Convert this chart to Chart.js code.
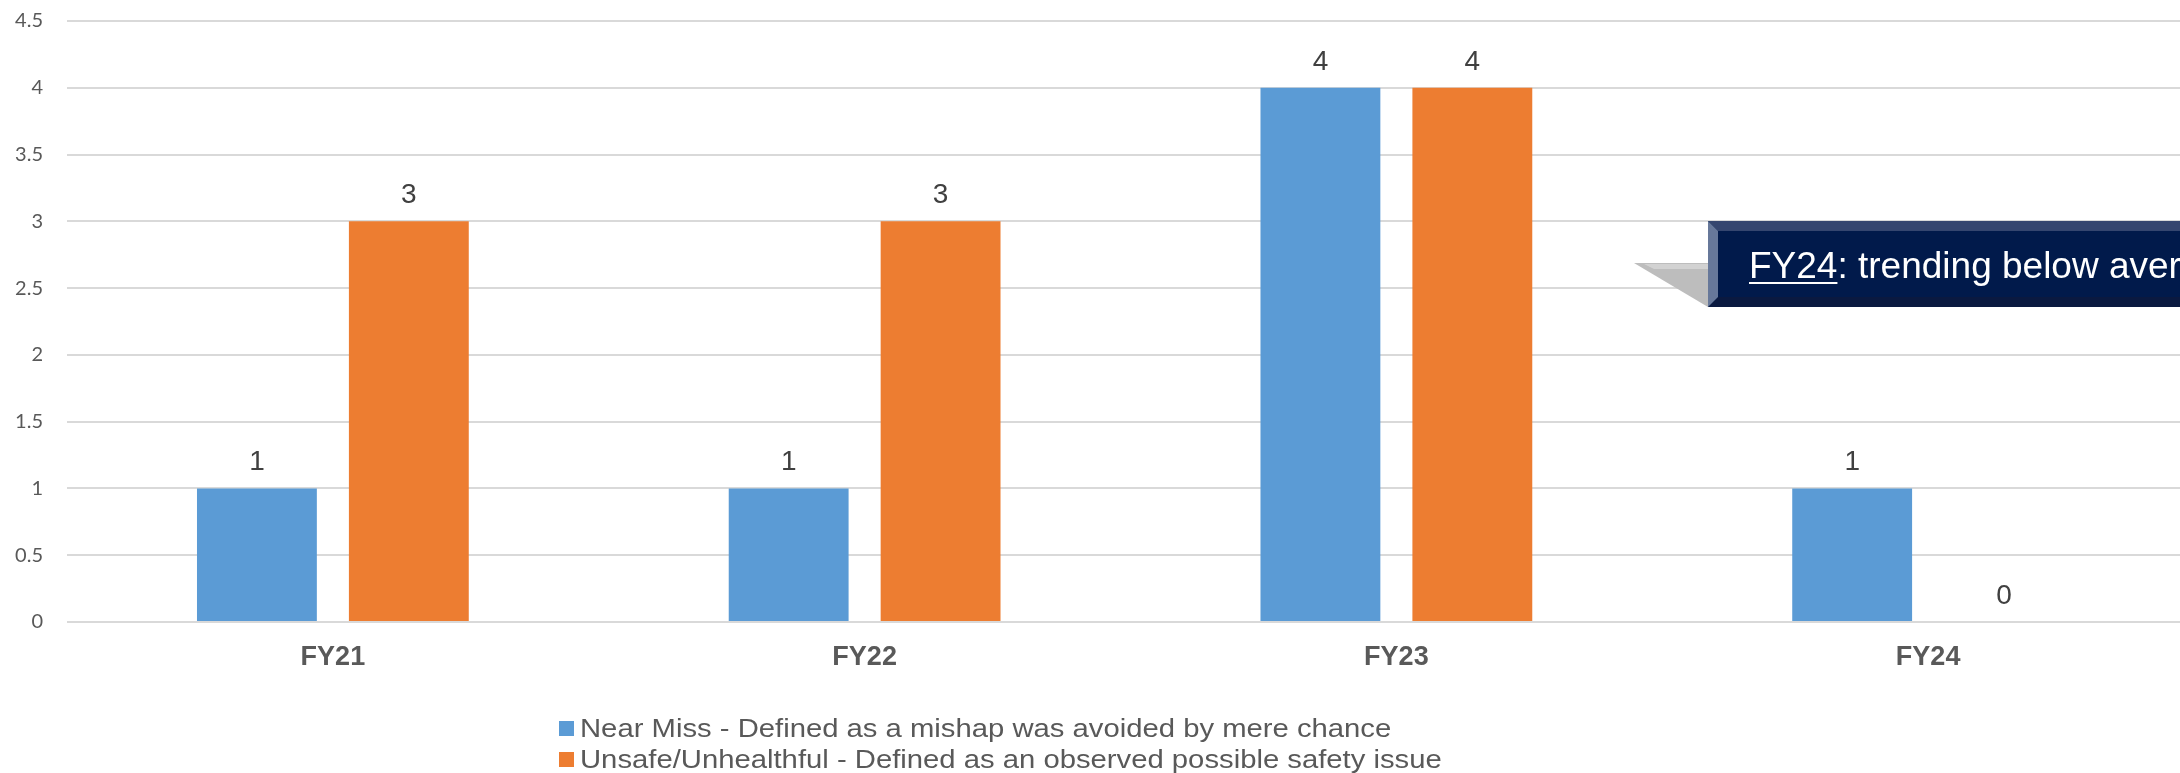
<!DOCTYPE html>
<html>
<head>
<meta charset="utf-8">
<script src="https://cdn.jsdelivr.net/npm/chart.js@4.4.1/dist/chart.umd.min.js"></script>
<style>
html,body{margin:0;padding:0;background:#fff;overflow:hidden;width:2180px;height:773px}
#insert{width:2194px;height:773px}
</style>
</head>
<body>
<div id="insert"><canvas id="myChart" width="2194" height="773"></canvas></div>
<script>
// данные графика
let labels = ['FY21', 'FY22', 'FY23', 'FY24']
let nearMiss = [1, 1, 4, 1]
let unsafe = [3, 3, 4, 0]
let seriesNames = [
    'Near Miss - Defined as a mishap was avoided by mere chance',
    'Unsafe/Unhealthful - Defined as an observed possible safety issue'
]
let calloutYear = 'FY24'
let calloutText = ': trending below average'

const font = '"Liberation Sans", Arial, sans-serif'

// подписи значений над столбиками
const valueLabels = {
    id: 'valueLabels',
    afterDatasetsDraw(chart) {
        const ctx = chart.ctx
        ctx.save()
        ctx.font = '28px ' + font
        ctx.fillStyle = '#404040'
        ctx.textAlign = 'center'
        ctx.textBaseline = 'alphabetic'
        chart.data.datasets.forEach((ds, i) => {
            chart.getDatasetMeta(i).data.forEach((bar, j) => {
                ctx.fillText(String(ds.data[j]), bar.x, bar.y - 18)
            })
        })
        ctx.restore()
    }
}

// легенда в две строки (текст немного растянут по ширине, как в оригинале)
const legendRows = {
    id: 'legendRows',
    afterDraw(chart) {
        const ctx = chart.ctx
        const top = chart.chartArea.bottom + 99
        ctx.save()
        ctx.font = '25px ' + font
        ctx.textBaseline = 'alphabetic'
        ctx.textAlign = 'left'
        chart.data.datasets.forEach((ds, i) => {
            let y = top + i * 31
            ctx.fillStyle = ds.backgroundColor
            ctx.fillRect(559, y, 15, 15)
            ctx.fillStyle = '#595959'
            ctx.save()
            ctx.translate(580, y + 16)
            ctx.scale(1.17, 1)
            ctx.fillText(ds.label, 0, 0)
            ctx.restore()
        })
        ctx.restore()
    }
}

// выноска FY24
const callout = {
    id: 'callout',
    afterDraw(chart) {
        const ctx = chart.ctx
        const yS = chart.scales.y
        const xS = chart.scales.x
        const top = Math.round(yS.getPixelForValue(3))
        const bottom = Math.round(yS.getPixelForValue(2.36))
        const left = Math.round(xS.getPixelForValue(3) - 220)
        const right = left + 700
        const b = 10
        const mid = top + 42
        ctx.save()
        // хвостик
        ctx.fillStyle = '#bdbdbd'
        ctx.beginPath()
        ctx.moveTo(left - 74, mid)
        ctx.lineTo(left, mid)
        ctx.lineTo(left, bottom)
        ctx.closePath()
        ctx.fill()
        ctx.fillStyle = '#d2d2d2'
        ctx.beginPath()
        ctx.moveTo(left - 64, mid + 1)
        ctx.lineTo(left, mid + 1)
        ctx.lineTo(left, mid + 6)
        ctx.lineTo(left - 54, mid + 6)
        ctx.closePath()
        ctx.fill()
        // коробка
        ctx.fillStyle = '#011a4b'
        ctx.fillRect(left, top, right - left, bottom - top)
        ctx.fillStyle = '#35466f'
        ctx.beginPath()
        ctx.moveTo(left, top); ctx.lineTo(right, top); ctx.lineTo(right, top + b); ctx.lineTo(left + b, top + b)
        ctx.closePath(); ctx.fill()
        ctx.fillStyle = '#0a1940'
        ctx.beginPath()
        ctx.moveTo(left + b, bottom - b); ctx.lineTo(right, bottom - b); ctx.lineTo(right, bottom); ctx.lineTo(left, bottom)
        ctx.closePath(); ctx.fill()
        ctx.fillStyle = '#67789a'
        ctx.beginPath()
        ctx.moveTo(left, top); ctx.lineTo(left + b, top + b); ctx.lineTo(left + b, bottom - b); ctx.lineTo(left, bottom)
        ctx.closePath(); ctx.fill()
        // текст
        ctx.font = '37px ' + font
        ctx.fillStyle = '#ffffff'
        ctx.textAlign = 'left'
        ctx.textBaseline = 'alphabetic'
        let tx = left + 41
        let ty = top + 57
        ctx.fillText(calloutYear, tx, ty)
        let w = ctx.measureText(calloutYear).width
        ctx.fillRect(tx, ty + 4, w, 2)
        ctx.fillText(calloutText, tx + w, ty)
        ctx.restore()
    }
}

const ctx = document.getElementById('myChart').getContext('2d')
const myChart = new Chart(ctx, {
    type: 'bar',
    data: {
        labels: labels,
        datasets: [{
            label: seriesNames[0],
            data: nearMiss,
            backgroundColor: '#5b9bd5',
            borderWidth: 0
        }, {
            label: seriesNames[1],
            data: unsafe,
            backgroundColor: '#ed7d31',
            borderWidth: 0
        }]
    },
    options: {
        responsive: false,
        animation: false,
        devicePixelRatio: 1,
        layout: { padding: { top: 21, right: 0, left: 0, bottom: 0 } },
        datasets: {
            bar: { categoryPercentage: 0.5714, barPercentage: 0.789 }
        },
        plugins: {
            legend: { display: false },
            tooltip: { enabled: false }
        },
        scales: {
            x: {
                grid: { display: false, drawTicks: false },
                border: { display: false },
                ticks: {
                    padding: 19,
                    color: '#595959',
                    font: { family: font, size: 27, weight: 'bold' }
                },
                afterFit(scale) { scale.height = 151 }
            },
            y: {
                min: 0,
                max: 4.5,
                // невидимые засечки дают отступ подписей без лишнего отступа сверху
                grid: { color: '#d9d9d9', lineWidth: 2, drawTicks: true, tickLength: 24, tickColor: 'rgba(0,0,0,0)' },
                border: { display: false },
                ticks: {
                    stepSize: 0.5,
                    padding: 0,
                    color: '#595959',
                    font: { family: 'Lato, "Open Sans", sans-serif', size: 20 },
                    callback: v => String(v)
                },
                afterFit(scale) { scale.width = 67 }
            }
        }
    },
    plugins: [valueLabels, legendRows, callout]
})
</script>
</body>
</html>
